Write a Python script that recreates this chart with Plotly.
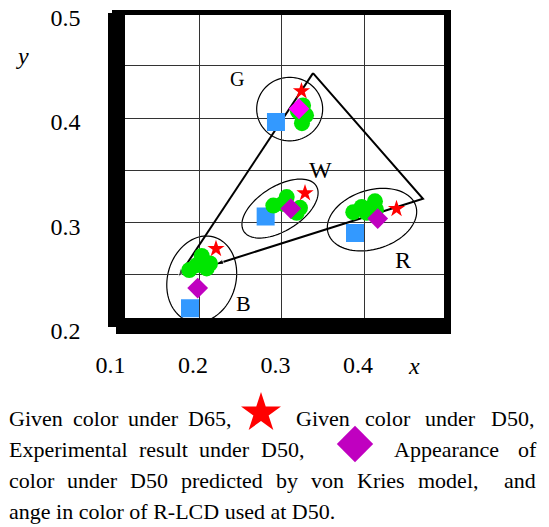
import numpy as np
import plotly.graph_objects as go

# page: the browser adds an 8px body margin, so the figure is placed at (8, 8)
PAGE_W, PAGE_H = 549, 527
OFF = 8
FW, FH = PAGE_W - OFF, PAGE_H - OFF

# ---------------- data (CIE 1931 x, y chromaticity) ----------------
groups = ["G", "W", "R", "B"]

# Given color under D65 (blue squares)
d65_x = [0.2933, 0.2808, 0.3891, 0.1891]
d65_y = [0.3963, 0.3058, 0.2898, 0.2178]

# Given color under D50 (red stars)
d50_x = [0.3242, 0.3285, 0.4394, 0.2206]
d50_y = [0.4258, 0.3281, 0.3131, 0.2748]

# Appearance predicted by von Kries model (diamonds)
vk_x = [0.3212, 0.3112, 0.4166, 0.1984]
vk_y = [0.4089, 0.3133, 0.3037, 0.2372]
vk_color = ["#ff00ff", "#c000c0", "#c000c0", "#c000c0"]

# Experimental results under D50 (green circles)
exp_x = [0.3261, 0.3297, 0.3248, 0.3200,
         0.2901, 0.3063, 0.3015, 0.3184, 0.3224,
         0.3870, 0.3972, 0.4133, 0.4145, 0.4033,
         0.1882, 0.1972, 0.2033, 0.2133, 0.2093]
exp_y = [0.4120, 0.4026, 0.3951, 0.4064,
         0.3162, 0.3243, 0.3180, 0.3093, 0.3140,
         0.3099, 0.3149, 0.3202, 0.3124, 0.3093,
         0.2544, 0.2591, 0.2680, 0.2607, 0.2560]

# Color range of the R-LCD at D50 (ellipses): centre and two conjugate semi-axes
ell_cx = [0.3099, 0.2982, 0.4097, 0.2033]
ell_cy = [0.4086, 0.3133, 0.3027, 0.2457]
ell_ux = [0.0400, 0.0437, 0.0530, 0.0140]
ell_uy = [0.0000, 0.0220, 0.0134, 0.0405]
ell_vx = [0.0000, -0.0149, -0.0112, -0.0400]
ell_vy = [0.0304, 0.0177, 0.0268, 0.0083]

# Gamut triangle (drawn with arrows)
tri_x = [0.3382, 0.4715, 0.2194]
tri_y = [0.4430, 0.3227, 0.2598]
arr_x = [0.3382, 0.1745]
arr_y = [0.4430, 0.2476]

# Group label positions
lab_x = [0.2464, 0.3467, 0.4476, 0.2537]
lab_y = [0.4371, 0.3500, 0.2638, 0.2222]
lab_size = [20, 24, 24, 22]

x_ticks = [0.1, 0.2, 0.3, 0.4]
y_ticks = [0.2, 0.3, 0.4, 0.5]
y_minor = [0.25, 0.35, 0.45]

# caption: (line centre px, [(words, left px, right px), ...])  justified segments
caption = [
    (418, [("Given color under D65,", 8, 230), ("Given color under D50,", 295, 533)]),
    (449, [("Experimental result under D50,", 8, 303), ("Appearance of", 393, 535)]),
    (480, [("color under D50 predicted by von Kries model,  and", 8, 535)]),
    (511, [("ange in color of R-LCD used at D50.", 8, None)]),
]

FONT = "Liberation Serif"
CAP = 22

# Times / Liberation Serif advance widths (em/1000) used to justify the caption words
TW = dict(zip("abcdefghijklmnopqrstuvwxyz",
              [444, 500, 444, 500, 444, 333, 500, 500, 278, 278, 500, 278, 778, 500,
               500, 500, 500, 333, 389, 278, 500, 500, 722, 500, 500, 444]))
TW.update({"A": 722, "D": 722, "E": 611, "G": 722, "K": 722, "L": 611, "C": 667,
           "R": 667, ",": 250, ".": 250, "-": 333, " ": 250})
TW.update({d: 500 for d in "0123456789"})


def text_w(s, size):
    return sum(TW.get(c, 500) for c in s) * size / 1000.0


def px(xp):
    return (xp - OFF) / FW


def py(yp):
    return 1 - (yp - OFF) / FH


# ---------------- figure ----------------
fig = go.Figure()

# gamut triangle lines with arrowheads
fig.add_trace(go.Scatter(
    x=tri_x, y=tri_y, mode="lines+markers",
    line=dict(color="black", width=2),
    marker=dict(symbol="arrow", size=[0, 0, 9], angleref="previous", color="black"),
    hoverinfo="skip", showlegend=False))
fig.add_trace(go.Scatter(
    x=arr_x, y=arr_y, mode="lines+markers",
    line=dict(color="black", width=2),
    marker=dict(symbol="arrow", size=[0, 9], angleref="previous", color="black"),
    hoverinfo="skip", showlegend=False))

fig.add_trace(go.Scatter(
    x=d65_x, y=d65_y, mode="markers", name="Given color under D65",
    marker=dict(symbol="square", size=18, color="#3399ff", line=dict(width=0)),
    showlegend=False))
fig.add_trace(go.Scatter(
    x=exp_x, y=exp_y, mode="markers", name="Experimental result under D50",
    marker=dict(symbol="circle", size=16, color="#00e600", line=dict(width=0)),
    showlegend=False))
fig.add_trace(go.Scatter(
    x=vk_x, y=vk_y, mode="markers", name="von Kries",
    marker=dict(symbol="diamond", size=16, color=vk_color, line=dict(width=0)),
    showlegend=False))
fig.add_trace(go.Scatter(
    x=d50_x, y=d50_y, mode="markers", name="Given color under D50",
    marker=dict(symbol="star", size=13, color="#ff0000", line=dict(width=0)),
    showlegend=False))

# ellipses
t = np.linspace(0, 2 * np.pi, 91)
shapes = []
for cx, cy, ux, uy, vx, vy in zip(ell_cx, ell_cy, ell_ux, ell_uy, ell_vx, ell_vy):
    ex = cx + ux * np.cos(t) + vx * np.sin(t)
    ey = cy + uy * np.cos(t) + vy * np.sin(t)
    path = "M " + " L ".join(f"{a:.5f},{b:.5f}" for a, b in zip(ex, ey)) + " Z"
    shapes.append(dict(type="path", path=path, xref="x", yref="y",
                       line=dict(color="black", width=1.2), layer="below"))

# heavy frame (page pixel positions -> paper)
for x0, x1, y0, y1 in [(112, 451, 10, 15), (444, 451, 10, 333),
                       (108, 125, 13, 327), (116, 451, 318, 334)]:
    shapes.append(dict(type="rect", xref="paper", yref="paper",
                       x0=px(x0), x1=px(x1), y0=py(y1), y1=py(y0),
                       fillcolor="black", line=dict(width=0), layer="above"))

annotations = []
for g, lx, ly, ls in zip(groups, lab_x, lab_y, lab_size):
    annotations.append(dict(x=lx, y=ly, xref="x", yref="y", text=g, showarrow=False,
                            xanchor="center", yanchor="middle",
                            font=dict(family=FONT, size=ls, color="black")))

# axis names
annotations.append(dict(x=px(22), y=py(56), xref="paper", yref="paper", text="<i>y</i>",
                        xanchor="center", yanchor="middle",
                        showarrow=False, font=dict(family=FONT, size=24, color="black")))
annotations.append(dict(x=px(414), y=py(366), xref="paper", yref="paper", text="<i>x</i>",
                        xanchor="center", yanchor="middle",
                        showarrow=False, font=dict(family=FONT, size=24, color="black")))

# caption words, justified within each segment
for yc, segs in caption:
    for seg, x0, x1 in segs:
        if x1 is None:
            placed = [(seg, x0)]
        else:
            words = seg.split(" ")
            widths = [text_w(w, CAP) for w in words]
            gap = (x1 - x0 - sum(widths)) / max(len(words) - 1, 1)
            placed, cur = [], x0
            for w, wd in zip(words, widths):
                if w:
                    placed.append((w, cur))
                    cur += wd
                cur += gap
        for w, xl in placed:
            annotations.append(dict(x=px(xl), y=py(yc), xref="paper", yref="paper",
                                    xanchor="left", yanchor="middle", text=w,
                                    showarrow=False, borderpad=0,
                                    font=dict(family=FONT, size=CAP, color="black")))

# caption symbols on an auxiliary page-pixel axis
fig.add_trace(go.Scatter(x=[261], y=[413], xaxis="x2", yaxis="y2", mode="markers",
                         marker=dict(symbol="star", size=30, color="#ff0000"),
                         showlegend=False, hoverinfo="skip"))
fig.add_trace(go.Scatter(x=[355], y=[444], xaxis="x2", yaxis="y2", mode="markers",
                         marker=dict(symbol="diamond", size=28, color="#c000c0"),
                         showlegend=False, hoverinfo="skip"))

# pixel extents of the axis ranges on the page
x_pix = (116.5, 446.5)     # x = 0.1 .. 0.5
y_pix = (327.0, 13.5)      # y = 0.2 .. 0.5

fig.update_layout(
    width=FW, height=FH, autosize=False,
    margin=dict(l=0, r=0, t=0, b=0, autoexpand=False),
    paper_bgcolor="white", plot_bgcolor="rgba(0,0,0,0)",
    showlegend=False,
    shapes=shapes, annotations=annotations,
    xaxis=dict(domain=[px(x_pix[0]), px(x_pix[1])], range=[0.1, 0.5],
               tickvals=x_ticks, ticktext=[f"{v:.1f}" for v in x_ticks],
               showgrid=True, gridcolor="#333333", gridwidth=1,
               zeroline=False, showline=False, ticks="", automargin=False,
               tickfont=dict(family=FONT, size=24, color="black"),
               ticklabeloverflow="allow",
               ticklabelshift=-6, ticklabelstandoff=21, fixedrange=True),
    yaxis=dict(domain=[py(y_pix[0]), py(y_pix[1])], range=[0.1999, 0.5001],
               tickvals=y_ticks, ticktext=[f"{v:.1f}" for v in y_ticks],
               showgrid=True, gridcolor="#333333", gridwidth=1,
               minor=dict(tickvals=y_minor, showgrid=True, gridcolor="#333333", gridwidth=1),
               zeroline=False, showline=False, ticks="", automargin=False,
               tickfont=dict(family=FONT, size=24, color="black"),
               ticklabeloverflow="allow",
               ticklabelshift=4, ticklabelstandoff=35, fixedrange=True),
    xaxis2=dict(domain=[0, 1], range=[OFF, PAGE_W], anchor="y2", visible=False,
                fixedrange=True),
    yaxis2=dict(domain=[0, 1], range=[PAGE_H, OFF], anchor="x2", visible=False,
                fixedrange=True),
)

fig.write_html("out.html")
